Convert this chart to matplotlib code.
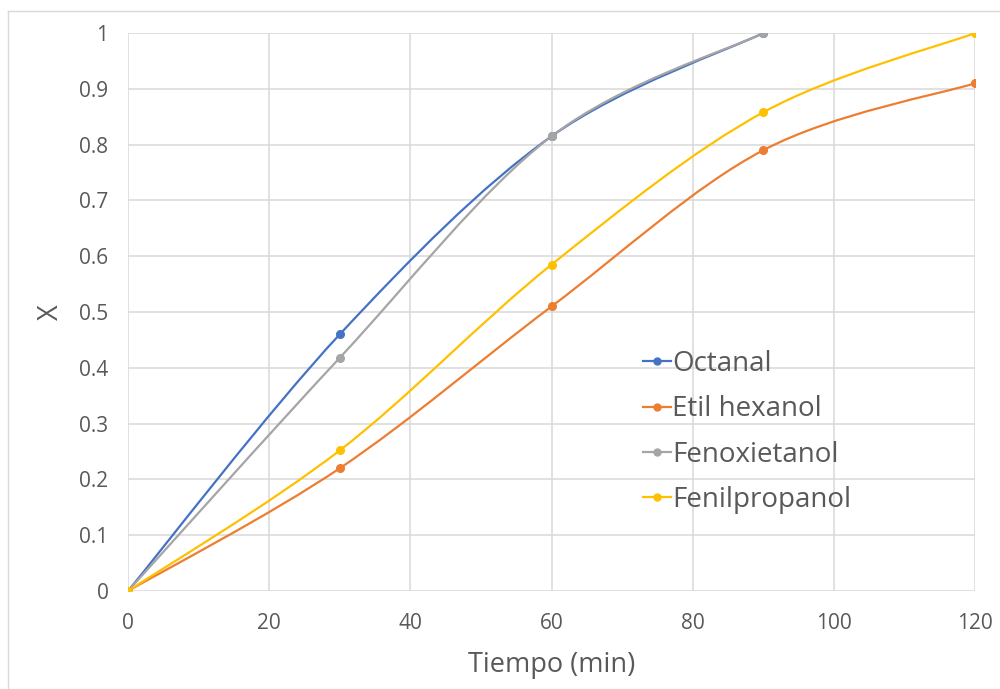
import numpy as np
import matplotlib
matplotlib.use('Agg')
import matplotlib.pyplot as plt
from matplotlib.path import Path
from matplotlib.patches import PathPatch
from matplotlib.lines import Line2D

plt.rcParams['font.family'] = ['Open Sans', 'DejaVu Sans']

# datos
tiempo = [0, 30, 60, 90, 120]
octanal = [0, 0.46, 0.815, 1.0]
etil_hexanol = [0, 0.22, 0.51, 0.79, 0.91]
fenoxietanol = [0, 0.418, 0.815, 1.0]
fenilpropanol = [0, 0.252, 0.585, 0.858, 1.0]

nombres = ['Octanal', 'Etil hexanol', 'Fenoxietanol', 'Fenilpropanol']
series = [octanal, etil_hexanol, fenoxietanol, fenilpropanol]
colores = ['#4472C4', '#ED7D31', '#A5A5A5', '#FFC000']


def curva_suave(x, y, t=1.0 / 6):
    # curva tipo Excel (bezier cubica, catmull-rom)
    p = np.column_stack([x, y]).astype(float)
    n = len(p)
    verts = [p[0]]
    codes = [Path.MOVETO]
    for i in range(n - 1):
        p0 = p[i - 1] if i > 0 else p[i]
        p3 = p[i + 2] if i + 2 < n else p[i + 1]
        c1 = p[i] + (p[i + 1] - p0) * t
        c2 = p[i + 1] - (p3 - p[i]) * t
        verts += [c1, c2, p[i + 1]]
        codes += [Path.CURVE4] * 3
    return Path(verts, codes)


fig = plt.figure(figsize=(10, 6.89), dpi=100)
ax = fig.add_axes([0.128, 0.1422, 0.847, 0.8098])

for nombre, vals, c in zip(nombres, series, colores):
    xs = tiempo[:len(vals)]
    ax.add_patch(PathPatch(curva_suave(xs, vals), facecolor='none', edgecolor=c, lw=1.6, zorder=3))
    ax.plot(xs, vals, ls='none', marker='o', ms=5.5, color=c, zorder=4)

ax.set_xlim(0, 120)
ax.set_ylim(0, 1)
ax.set_xticks(np.arange(0, 121, 20))
ax.set_yticks(np.arange(0, 1.01, 0.1))
ax.set_yticklabels(['0', '0.1', '0.2', '0.3', '0.4', '0.5', '0.6', '0.7', '0.8', '0.9', '1'])
ax.grid(True, color='#d9d9d9', lw=1.1, zorder=0)
ax.set_axisbelow(True)
for s in ax.spines.values():
    s.set_visible(False)
ax.tick_params(length=0, labelsize=15, labelcolor='#595959', pad=14)
ax.tick_params(axis='x', pad=16)
ax.set_xlabel('Tiempo (min)', fontsize=19.5, color='#595959', labelpad=12)
ax.set_ylabel('X', fontsize=19.5, color='#595959', labelpad=10)

# leyenda
handles = [Line2D([0], [0], color=c, lw=1.6, marker='o', ms=5) for c in colores]
ax.legend(handles, nombres, loc='upper left', bbox_to_anchor=(0.618, 0.528),
          bbox_transform=fig.transFigure, frameon=False, fontsize=20,
          labelcolor='#595959', handlelength=1.0, handletextpad=0.05, labelspacing=0.62)

# marco del grafico
fig.add_artist(Line2D([0.008, 1], [0.984, 0.984], color='#d9d9d9', lw=1, transform=fig.transFigure))
fig.add_artist(Line2D([0.008, 0.008], [0, 0.984], color='#d9d9d9', lw=1, transform=fig.transFigure))

fig.savefig('out.png', dpi=100)
